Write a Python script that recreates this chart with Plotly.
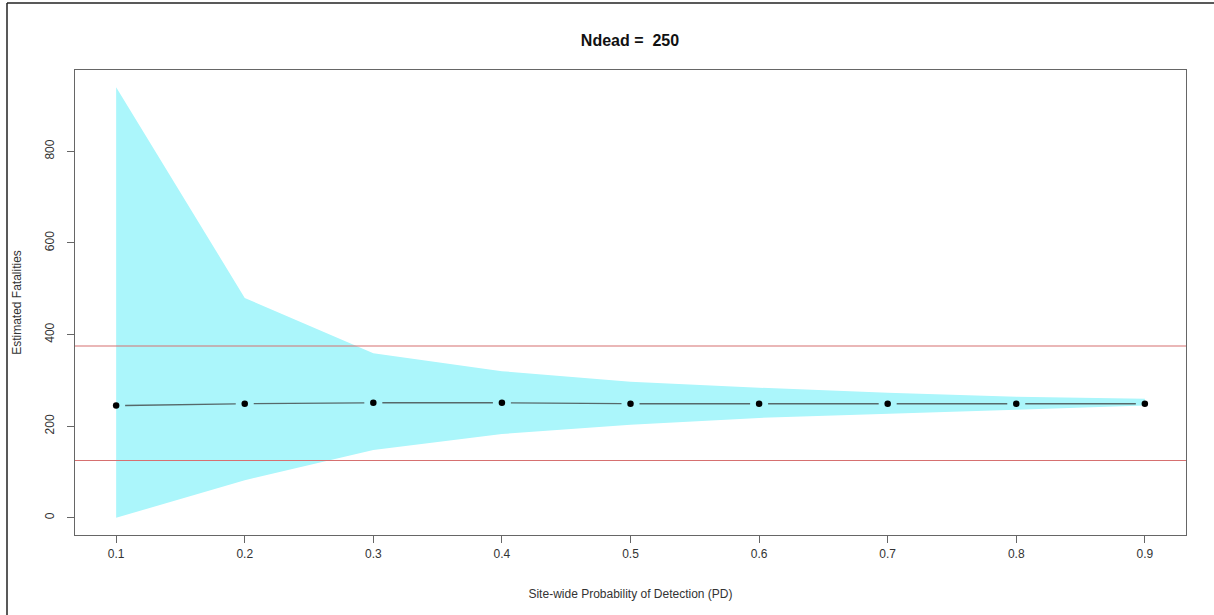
import plotly.graph_objects as go

# Detection probabilities and the simulated estimates at each
pd_values = [0.1, 0.2, 0.3, 0.4, 0.5, 0.6, 0.7, 0.8, 0.9]
est_median = [245, 249, 251, 251, 249, 249, 249, 249, 249]
est_upper = [940, 480, 359, 320, 297, 284, 273, 264, 260]
est_lower = [0, 82, 148, 183, 203, 218, 227, 236, 245]
n_dead = 250
ref_lines = [0.5 * n_dead, 1.5 * n_dead]
x_ticks = [0.1, 0.2, 0.3, 0.4, 0.5, 0.6, 0.7, 0.8, 0.9]
y_ticks = [0, 200, 400, 600, 800]

W, H = 1214, 615
M_L, M_R, M_T, M_B = 75, 28, 70, 80
plot_w = W - M_L - M_R
plot_h = H - M_T - M_B

# R-style 4% padding of the axis ranges
def padded(lo, hi):
    d = (hi - lo) * 0.04
    return [lo - d, hi + d]

x_range = padded(min(pd_values), max(pd_values))
y_range = padded(min(est_lower), max(est_upper))

fig = go.Figure()

# Shaded band between lower and upper estimates
fig.add_trace(go.Scatter(
    x=pd_values + pd_values[::-1],
    y=est_upper + est_lower[::-1],
    fill="toself", fillcolor="#abf6fb",
    line=dict(width=0), mode="lines", hoverinfo="skip", showlegend=False,
))

# Reference lines at +/- 50% of the true count
for r in ref_lines:
    fig.add_shape(type="line", xref="paper", x0=0, x1=1, yref="y", y0=r, y1=r,
                  line=dict(color="rgb(214,112,112)", width=1.2))

# Connecting segments with gaps around each point (type "b" style)
px_per_x = plot_w / (x_range[1] - x_range[0])
px_per_y = plot_h / (y_range[1] - y_range[0])
gap_px = 9
seg_x, seg_y = [], []
for i in range(len(pd_values) - 1):
    x0, x1 = pd_values[i], pd_values[i + 1]
    y0, y1 = est_median[i], est_median[i + 1]
    dxp = (x1 - x0) * px_per_x
    dyp = (y1 - y0) * px_per_y
    length = (dxp ** 2 + dyp ** 2) ** 0.5
    f = gap_px / length
    seg_x += [x0 + f * (x1 - x0), x1 - f * (x1 - x0), None]
    seg_y += [y0 + f * (y1 - y0), y1 - f * (y1 - y0), None]

fig.add_trace(go.Scatter(
    x=seg_x, y=seg_y, mode="lines",
    line=dict(color="#56696a", width=1.4), hoverinfo="skip", showlegend=False,
))

fig.add_trace(go.Scatter(
    x=pd_values, y=est_median, mode="markers",
    marker=dict(color="black", size=6.5), showlegend=False,
))

# Outer frame lines (top and left edges)
fx0 = (7 - M_L) / plot_w
fy_top = (H - M_B - 3) / plot_h
fy_bot = (H - M_B - H - 5) / plot_h
fx_right = (W + 5 - M_L) / plot_w
fig.add_shape(type="line", xref="paper", yref="paper", x0=fx0, x1=fx_right,
              y0=fy_top, y1=fy_top, line=dict(color="#222", width=1.5))
fig.add_shape(type="line", xref="paper", yref="paper", x0=fx0, x1=fx0,
              y0=fy_bot, y1=fy_top, line=dict(color="#222", width=1.5))

axis_font = dict(family="Liberation Sans, Arial, sans-serif", size=12, color="#333")

fig.update_layout(
    width=W, height=H,
    margin=dict(l=M_L, r=M_R, t=M_T, b=M_B),
    paper_bgcolor="white", plot_bgcolor="white",
    title=dict(text="<b>Ndead =  250</b>", x=630 / W, xanchor="center",
               y=1 - 40 / H, yanchor="middle",
               font=dict(family="Liberation Sans, Arial, sans-serif", size=16, color="#111")),
    xaxis=dict(
        range=x_range, tickvals=x_ticks, ticktext=[str(t) for t in x_ticks],
        showline=True, linecolor="#666", linewidth=1.2, mirror=True,
        ticks="outside", ticklen=7, tickcolor="#666", tickwidth=1,
        showgrid=False, zeroline=False, tickfont=axis_font,
        title=dict(text="Site-wide Probability of Detection (PD)", font=axis_font, standoff=30),
    ),
    yaxis=dict(
        range=y_range, tickvals=y_ticks, ticktext=[str(t) for t in y_ticks],
        showline=True, linecolor="#666", linewidth=1.2, mirror=True,
        ticks="outside", ticklen=7, tickcolor="#666", tickwidth=1, tickangle=-90,
        ticklabelstandoff=8,
        showgrid=False, zeroline=False, tickfont=axis_font,
        title=dict(text="Estimated Fatalities", font=axis_font, standoff=18),
    ),
)

fig.write_html("out.html")
